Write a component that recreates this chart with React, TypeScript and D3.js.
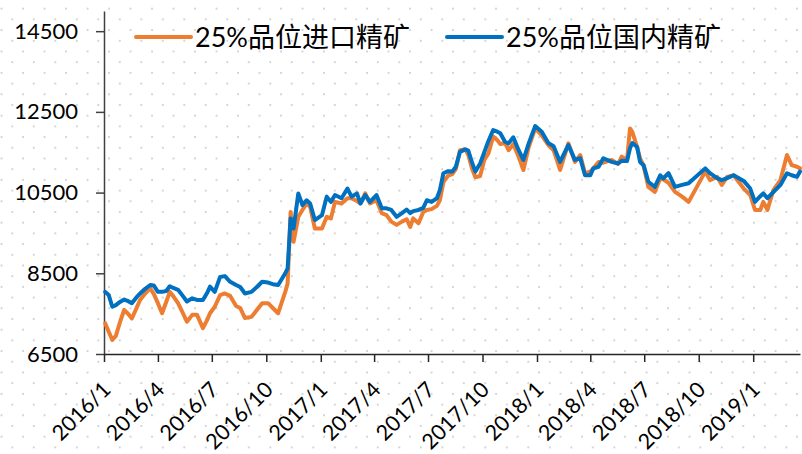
import React, { useEffect, useRef } from 'react';
import * as d3 from 'd3';

// weekly quotes
const dates = [
  '2016-01-03', '2016-01-09', '2016-01-15', '2016-01-21', '2016-01-28', '2016-02-04', '2016-02-11', '2016-02-17',
  '2016-02-24', '2016-03-02', '2016-03-10', '2016-03-19', '2016-03-25', '2016-04-01', '2016-04-08', '2016-04-15',
  '2016-04-21', '2016-04-28', '2016-05-05', '2016-05-13', '2016-05-20', '2016-05-29', '2016-06-06', '2016-06-16',
  '2016-06-23', '2016-06-28', '2016-07-06', '2016-07-15', '2016-07-23', '2016-08-01', '2016-08-11', '2016-08-18',
  '2016-08-26', '2016-09-06', '2016-09-15', '2016-09-24', '2016-10-04', '2016-10-12', '2016-10-21', '2016-11-02',
  '2016-11-06', '2016-11-11', '2016-11-16', '2016-11-24', '2016-12-01', '2016-12-08', '2016-12-14', '2016-12-22',
  '2017-01-03', '2017-01-11', '2017-01-18', '2017-01-25', '2017-02-05', '2017-02-15', '2017-02-22', '2017-03-03',
  '2017-03-09', '2017-03-17', '2017-03-25', '2017-04-05', '2017-04-14', '2017-04-22', '2017-04-30', '2017-05-09',
  '2017-05-18', '2017-05-26', '2017-06-01', '2017-06-06', '2017-06-15', '2017-06-23', '2017-06-29', '2017-07-07',
  '2017-07-16', '2017-07-21', '2017-07-27', '2017-08-04', '2017-08-11', '2017-08-17', '2017-08-24', '2017-09-02',
  '2017-09-07', '2017-09-13', '2017-09-19', '2017-09-27', '2017-10-04', '2017-10-11', '2017-10-19', '2017-10-26',
  '2017-10-31', '2017-11-08', '2017-11-14', '2017-11-22', '2017-12-01', '2017-12-09', '2017-12-18', '2017-12-29',
  '2018-01-09', '2018-01-20', '2018-01-29', '2018-02-09', '2018-02-23', '2018-03-06', '2018-03-15', '2018-03-23',
  '2018-04-01', '2018-04-06', '2018-04-15', '2018-04-23', '2018-05-07', '2018-05-18', '2018-05-24', '2018-06-02',
  '2018-06-07', '2018-06-11', '2018-06-19', '2018-06-24', '2018-06-30', '2018-07-08', '2018-07-19', '2018-07-28',
  '2018-08-02', '2018-08-11', '2018-08-22', '2018-09-03', '2018-09-14', '2018-10-12', '2018-10-20', '2018-11-01',
  '2018-11-09', '2018-11-18', '2018-11-29', '2018-12-16', '2018-12-27', '2019-01-04', '2019-01-13', '2019-01-18',
  '2019-01-25', '2019-02-04', '2019-02-16', '2019-02-27', '2019-03-07', '2019-03-16', '2019-03-21',
];

const importPrice = [
  7260, 7050, 6850, 6950, 7290, 7590, 7490, 7380, 7610, 7840, 7990, 8130, 7990, 7760, 7510, 7790,
  8040, 7910, 7760, 7520, 7300, 7470, 7470, 7140, 7340, 7510, 7670, 7960, 8000, 7940, 7690, 7640,
  7390, 7420, 7590, 7760, 7760, 7640, 7510, 8040, 8250, 10020, 9280, 9900, 10070, 10230, 10150, 9610,
  9610, 9900, 9860, 10270, 10230, 10360, 10360, 10290, 10230, 10480, 10230, 10310, 9990, 9940, 9780, 9700,
  9780, 9840, 9650, 9860, 9740, 10020, 10070, 10090, 10170, 10310, 10760, 10920, 10960, 11080, 11550, 11570,
  11430, 11110, 10880, 10910, 11310, 11470, 11890, 11800, 11700, 11730, 11550, 11700, 11390, 11060, 11630, 12090,
  11920, 11680, 11550, 11060, 11720, 11260, 11430, 10980, 11020, 11100, 11260, 11240, 11310, 11210, 11390, 11310,
  12090, 12000, 11630, 11350, 11160, 10640, 10520, 10850, 10830, 10740, 10520, 10400, 10270, 11020, 10810, 10890,
  10690, 10890, 10930, 10600, 10440, 10070, 10070, 10270, 10070, 10560, 10810, 11430, 11180, 11140, 11100,
];

const domesticPrice = [
  8040, 7960, 7670, 7710, 7790, 7850, 7810, 7760, 7890, 8000, 8110, 8210, 8200, 8040, 8040, 8060,
  8180, 8130, 8090, 7940, 7800, 7880, 7840, 7840, 8010, 8170, 8040, 8410, 8430, 8290, 8210, 8160,
  8000, 8040, 8160, 8290, 8270, 8230, 8210, 8500, 8620, 9860, 9610, 10480, 10190, 10310, 10230, 9820,
  9940, 10400, 10270, 10440, 10360, 10600, 10400, 10480, 10230, 10440, 10270, 10440, 10110, 10110, 10070, 9900,
  9990, 10080, 9990, 10040, 10070, 10120, 10310, 10270, 10360, 10560, 10980, 11030, 11020, 11140, 11510, 11570,
  11540, 11260, 11020, 11220, 11500, 11780, 12050, 12010, 11970, 11760, 11720, 11870, 11550, 11310, 11720, 12150,
  12010, 11730, 11650, 11260, 11680, 11310, 11350, 10930, 10930, 11100, 11140, 11350, 11260, 11220, 11290, 11280,
  11600, 11730, 11630, 11260, 11180, 10770, 10640, 10930, 10850, 10980, 10640, 10690, 10730, 11100, 10980, 10860,
  10810, 10860, 10930, 10790, 10600, 10270, 10410, 10480, 10360, 10510, 10690, 10980, 10930, 10890, 11020,
];

const seriesNames = ['25%品位进口精矿', '25%品位国内精矿'];
const seriesColors = ['#ED7D31', '#0070C0'];
const yTicks = [6500, 8500, 10500, 12500, 14500];
const xTickLabels = [
  '2016/1', '2016/4', '2016/7', '2016/10', '2017/1', '2017/4', '2017/7',
  '2017/10', '2018/1', '2018/4', '2018/7', '2018/10', '2019/1',
];

const FONT = "Lato, 'Noto Sans CJK SC', sans-serif";

const App = () => {
  const chartRef = useRef<HTMLDivElement>(null);

  useEffect(() => {
    document.body.style.margin = '0';
    if (!chartRef.current) return;
    d3.select(chartRef.current).selectAll('*').remove();

    const W = 802;
    const H = 454;
    const left = 104;
    const right = 800;
    const bottom = 354;
    const top = 11;

    const parseDay = d3.timeParse('%Y-%m-%d');
    const parseTick = d3.timeParse('%Y/%m');
    const days = dates.map(d => parseDay(d) as Date);

    const x = d3.scaleTime()
      .domain([parseDay('2016-01-01') as Date, parseDay('2019-03-21') as Date])
      .range([left, right]);
    const y = d3.scaleLinear().domain([6500, 15000]).range([bottom, top]);

    const svg = d3.select(chartRef.current)
      .append('svg')
      .attr('width', W)
      .attr('height', H)
      .style('display', 'block')
      .style('font-family', FONT);

    // dotted background
    const pat = svg.append('defs').append('pattern')
      .attr('id', 'dots')
      .attr('patternUnits', 'userSpaceOnUse')
      .attr('x', 11.3)
      .attr('y', 18.4)
      .attr('width', 21.5)
      .attr('height', 21.4);
    pat.append('circle').attr('cx', 1).attr('cy', 1).attr('r', 1).attr('fill', '#c8c8c8');
    pat.append('circle').attr('cx', 11.75).attr('cy', 11.7).attr('r', 1).attr('fill', '#c8c8c8');

    svg.append('rect').attr('width', W).attr('height', H).attr('fill', '#fff');
    svg.append('rect').attr('width', W).attr('height', H).attr('fill', 'url(#dots)');

    // y axis
    const yAxis = svg.append('g')
      .attr('transform', `translate(${left},0)`)
      .call(d3.axisLeft(y).tickValues(yTicks).tickSize(8).tickSizeOuter(0).tickPadding(18).tickFormat(d3.format('d')));
    yAxis.select('.domain').attr('stroke', '#404040').attr('stroke-width', 1.5);
    yAxis.selectAll('.tick line').attr('stroke', '#404040').attr('stroke-width', 1.5);
    yAxis.selectAll('.tick text')
      .attr('fill', '#000')
      .style('font-family', FONT)
      .style('font-size', '22px');

    // x axis
    const tickDates = xTickLabels.map(t => parseTick(t) as Date);
    const xAxis = svg.append('g')
      .attr('transform', `translate(0,${bottom})`)
      .call(d3.axisBottom(x).tickValues(tickDates).tickSize(8).tickSizeOuter(0).tickFormat(() => ''));
    xAxis.select('.domain').attr('stroke', '#262626').attr('stroke-width', 1.5);
    xAxis.selectAll('.tick line').attr('stroke', '#262626').attr('stroke-width', 1.5);

    svg.append('g')
      .selectAll('text')
      .data(xTickLabels)
      .enter().append('text')
      .attr('transform', (d, i) => `translate(${x(tickDates[i]) + 8},391) rotate(-45)`)
      .attr('text-anchor', 'end')
      .attr('fill', '#000')
      .style('font-size', '21.5px')
      .text(d => d);

    // lines
    const series = [importPrice, domesticPrice];
    series.forEach((vals, k) => {
      const line = d3.line<number>()
        .x((_, i) => x(days[i]))
        .y(v => y(v));
      svg.append('path')
        .datum(vals)
        .attr('fill', 'none')
        .attr('stroke', seriesColors[k])
        .attr('stroke-width', 4)
        .attr('stroke-linejoin', 'round')
        .attr('stroke-linecap', 'round')
        .attr('d', line);
    });

    // legend
    const legendX = [136, 447];
    seriesNames.forEach((name, k) => {
      const g = svg.append('g').attr('transform', `translate(${legendX[k]},37)`);
      g.append('line')
        .attr('x1', 0).attr('x2', 55)
        .attr('stroke', seriesColors[k])
        .attr('stroke-width', 4)
        .attr('stroke-linecap', 'round');
      g.append('text')
        .attr('x', 59)
        .attr('y', 10)
        .attr('fill', '#000')
        .style('font-size', '27px')
        .text(name);
    });

    return () => {
      svg.remove();
    };
  }, []);

  return <div ref={chartRef} />;
};

export default App;
